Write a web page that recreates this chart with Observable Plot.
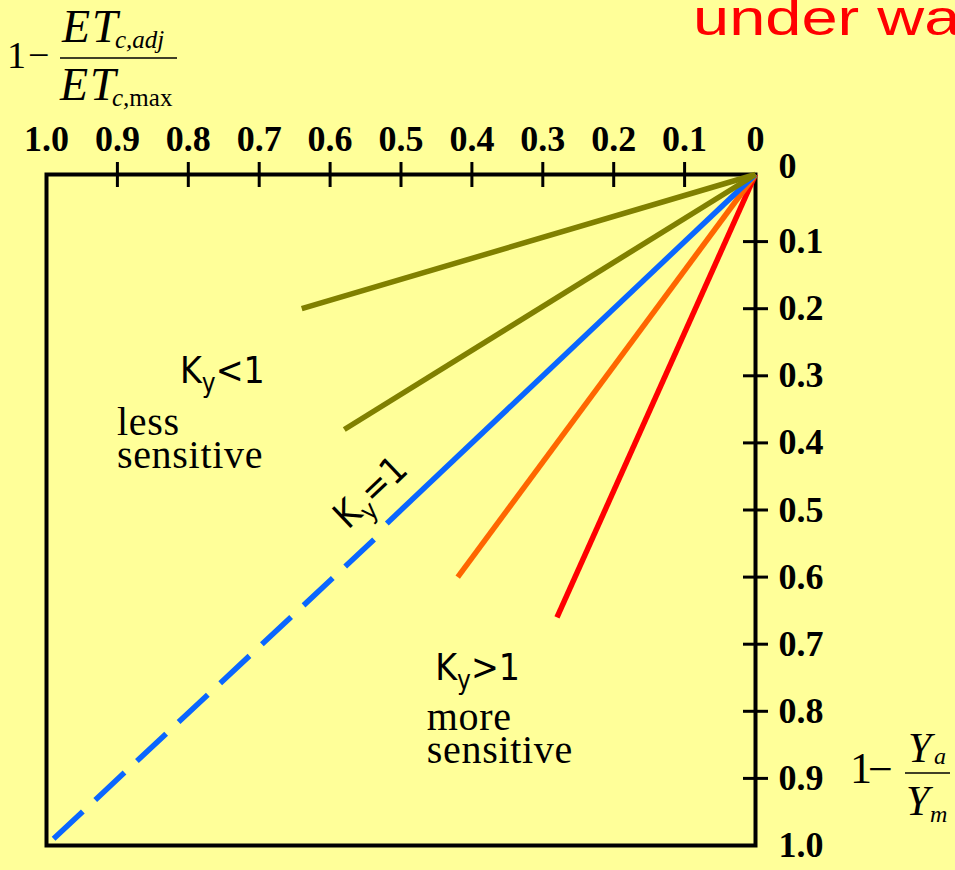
<!DOCTYPE html>
<html>
<head>
<meta charset="utf-8">
<script src="https://cdn.jsdelivr.net/npm/d3@7"></script>
<script src="https://cdn.jsdelivr.net/npm/@observablehq/plot@0.6"></script>
<style>
  html, body { margin: 0; padding: 0; background: #ffff99; overflow: hidden; }
  #chart { position: relative; width: 955px; height: 870px; overflow: hidden; }
</style>
</head>
<body>
<div id="chart"></div>
<script>
// Relative evapotranspiration deficit (x, top axis) against relative yield decrease (y, right axis)
const xTicks = [1.0, 0.9, 0.8, 0.7, 0.6, 0.5, 0.4, 0.3, 0.2, 0.1, 0];
const yTicks = [0, 0.1, 0.2, 0.3, 0.4, 0.5, 0.6, 0.7, 0.8, 0.9, 1.0];

// Yield response lines, all starting at the origin (0, 0)
const lineNames  = ["Ky < 1 (low)", "Ky < 1", "Ky = 1", "Ky > 1", "Ky > 1 (high)"];
const lineEndX   = [0.64, 0.58, 0.52, 0.42, 0.28];
const lineEndY   = [0.20, 0.38, 0.52, 0.60, 0.66];
const lineColors = ["#808000", "#808000", "#0a66ff", "#ff6600", "#ff0000"];

// Dashed continuation of the Ky = 1 line
const extX = [0.99, 0.538];
const extY = [0.99, 0.544];

const fmt = d => d === 0 ? "0" : d.toFixed(1);

const lines = lineNames.map((name, i) => ({
  name, x1: 0, y1: 0, x2: lineEndX[i], y2: lineEndY[i], color: lineColors[i]
})).reverse();

const ext = [{x1: extX[0], y1: extY[0], x2: extX[1], y2: extY[1]}];

const tickFont = {fontFamily: "Liberation Serif", fontWeight: "bold", fontSize: 36, fill: "black"};

const plot = Plot.plot({
  width: 955,
  height: 870,
  marginTop: 174,
  marginRight: 200,
  marginBottom: 25,
  marginLeft: 46,
  style: {background: "#ffff99"},
  x: {domain: [0, 1], reverse: true, axis: null},
  y: {domain: [0, 1], reverse: true, axis: null},
  color: {type: "identity"},
  marks: [
    Plot.frame({stroke: "black", strokeWidth: 4}),
    // crossing ticks on the top and right edges
    Plot.ruleX(xTicks.slice(1, -1), {x: d => d, y1: () => 0, y2: () => 0, insetTop: -12, insetBottom: -13, stroke: "black", strokeWidth: 3}),
    Plot.ruleY(yTicks.slice(1, -1), {y: d => d, x1: () => 0, x2: () => 0, insetLeft: -12, insetRight: -13, stroke: "black", strokeWidth: 3}),
    Plot.text(xTicks, {x: d => d, text: fmt, frameAnchor: "top", dy: -35, lineAnchor: "middle", ...tickFont}),
    Plot.text(yTicks.filter(d => d !== 0), {y: d => d, text: fmt, frameAnchor: "right", textAnchor: "start", dx: 23, lineAnchor: "middle", ...tickFont}),
    Plot.text(yTicks.filter(d => d === 0), {y: d => d, text: fmt, frameAnchor: "right", textAnchor: "start", dx: 23, dy: -8, lineAnchor: "middle", ...tickFont}),
    Plot.link(ext, {x1: "x1", y1: "y1", x2: "x2", y2: "y2", stroke: lineColors[2], strokeWidth: 5.5, strokeDasharray: "40,17", strokeLinecap: "butt"}),
    Plot.link(lines, {x1: "x1", y1: "y1", x2: "x2", y2: "y2", stroke: "color", strokeWidth: 5.5, strokeLinecap: "butt"})
  ]
});

document.getElementById("chart").appendChild(plot);

const svg = d3.select(plot);
const sx = plot.scale("x"), sy = plot.scale("y");
const ns = svg.append("g").attr("text-anchor", "start");

// writes a text made of parts; sub parts are lowered and smaller
function rich(g, px, py, parts, opt) {
  const t = g.append("text")
    .attr("x", px).attr("y", py)
    .attr("text-anchor", "start")
    .attr("font-family", opt.family)
    .attr("font-size", opt.size)
    .attr("fill", opt.fill || "black");
  if (opt.rotate) t.attr("transform", `rotate(${opt.rotate},${px},${py})`);
  if (opt.spacing) t.attr("letter-spacing", opt.spacing);
  let shift = 0;
  for (const p of parts) {
    const s = t.append("tspan").text(p.t);
    const want = p.sub ? (opt.subDy || 8) : 0;
    if (want !== shift) { s.attr("dy", want - shift); shift = want; }
    if (p.sub) s.attr("font-size", opt.subSize || opt.size * 0.68);
    if (p.italic) s.attr("font-style", "italic");
    if (p.upright) s.attr("font-style", "normal");
  }
  return t;
}

const sans = "DejaVu Sans Condensed, DejaVu Sans, sans-serif";
const serif = "Liberation Serif, Times New Roman, serif";

// Region annotations (anchored in data units)
rich(ns, sx.apply(0.811), sy.apply(0.3115), [{t: "K"}, {t: "y", sub: true}, {t: "<1"}], {family: sans, size: 37, subSize: 26, subDy: 9});
rich(ns, sx.apply(0.900), sy.apply(0.389), [{t: "less"}], {family: serif, size: 40, spacing: 0.7});
rich(ns, sx.apply(0.900), sy.apply(0.438), [{t: "sensitive"}], {family: serif, size: 40, spacing: 0.7});

rich(ns, sx.apply(0.451), sy.apply(0.754), [{t: "K"}, {t: "y", sub: true}, {t: ">1"}], {family: sans, size: 37, subSize: 26, subDy: 9});
rich(ns, sx.apply(0.463), sy.apply(0.829), [{t: "more"}], {family: serif, size: 40, spacing: 0.7});
rich(ns, sx.apply(0.463), sy.apply(0.878), [{t: "sensitive"}], {family: serif, size: 40, spacing: 0.7});

// Ky = 1 label, turned to follow the 1:1 line
const ang = Math.atan2(sy.apply(0) - sy.apply(1), sx.apply(0) - sx.apply(1)) * 180 / Math.PI;
rich(ns, sx.apply(0.574), sy.apply(0.531), [{t: "K"}, {t: "y", sub: true}, {t: "=1"}], {family: sans, size: 37, subSize: 26, subDy: 9, rotate: ang});

// Axis titles as fractions
const eq = svg.append("g").attr("fill", "black").attr("text-anchor", "start");
// top-left: 1 - ETc,adj / ETc,max
rich(eq, 7, 68, [{t: "1"}], {family: serif, size: 38});
rich(eq, 28, 68, [{t: "\u2212"}], {family: serif, size: 38});
eq.append("line").attr("x1", 60).attr("x2", 177).attr("y1", 58).attr("y2", 58).attr("stroke", "black").attr("stroke-width", 1.6);
rich(eq, 62, 42, [{t: "ET", italic: true}], {family: serif, size: 46, spacing: 2});
rich(eq, 115, 48, [{t: "c,adj", italic: true}], {family: serif, size: 25});
rich(eq, 60, 100, [{t: "ET", italic: true}], {family: serif, size: 46, spacing: 2});
rich(eq, 112, 106, [{t: "c,", italic: true}, {t: "max", upright: true}], {family: serif, size: 25});

// right: 1 - Ya / Ym
rich(eq, 850, 783, [{t: "1"}], {family: serif, size: 44});
rich(eq, 868, 784, [{t: "\u2212"}], {family: serif, size: 44});
eq.append("line").attr("x1", 905).attr("x2", 950).attr("y1", 773).attr("y2", 773).attr("stroke", "black").attr("stroke-width", 1.6);
rich(eq, 908, 762, [{t: "Y", italic: true}], {family: serif, size: 42});
rich(eq, 934, 764, [{t: "a", italic: true}], {family: serif, size: 24});
rich(eq, 906, 815, [{t: "Y", italic: true}], {family: serif, size: 42});
rich(eq, 930, 822, [{t: "m", italic: true}], {family: serif, size: 24});

// Heading, running past the right edge
svg.append("text")
  .attr("transform", "translate(693,35) scale(1.3,1)")
  .attr("text-anchor", "start")
  .attr("font-family", "Liberation Sans, Arial, sans-serif")
  .attr("font-size", 50)
  .attr("fill", "#ff0000")
  .text("under water stress");
</script>
</body>
</html>
